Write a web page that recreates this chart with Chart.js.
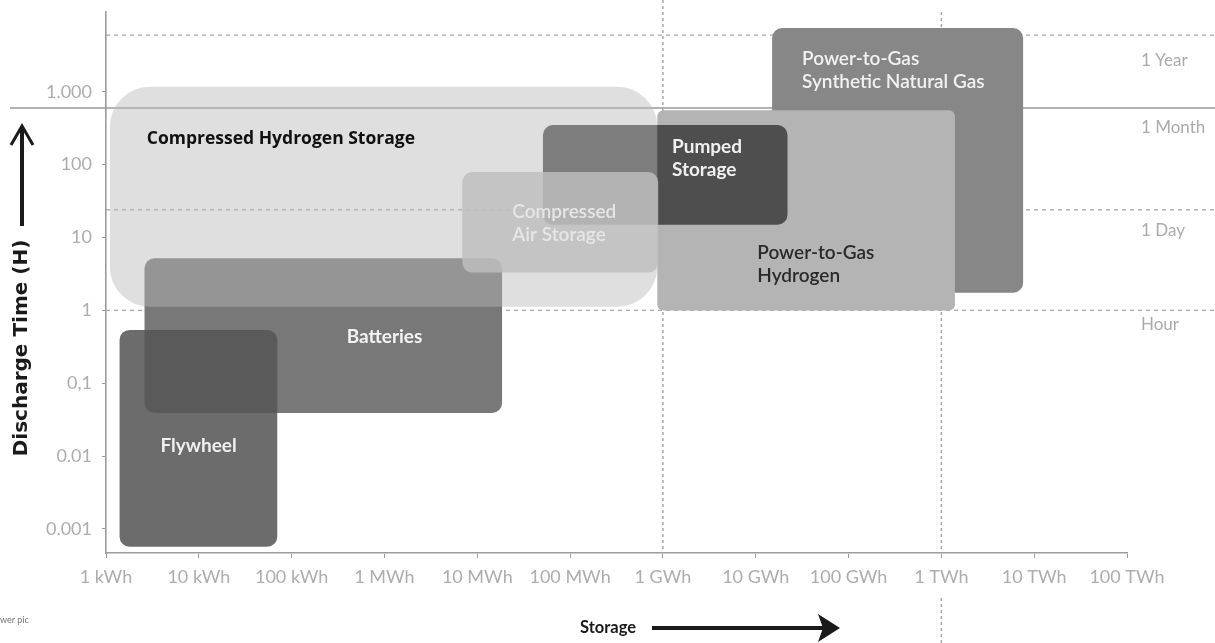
<!DOCTYPE html>
<html>
<head>
<meta charset="utf-8">
<script src="https://cdn.jsdelivr.net/npm/chart.js@4.4.1/dist/chart.umd.min.js"></script>
<style>
  html, body { margin: 0; padding: 0; background: #fff; }
  #wrap { width: 1215px; height: 643px; position: relative; }
</style>
</head>
<body>
<div id="wrap"><canvas id="grafico"></canvas></div>
<script>
// tecnologias: armazenamento em kWh, tempo de descarga em horas
const tecnologias = ["Power-to-Gas Synthetic Natural Gas", "Power-to-Gas Hydrogen", "Batteries", "Flywheel", "Pumped Storage", "Compressed Hydrogen Storage", "Compressed Air Storage"];
const armazMin = [1.5e7, 8.7e5, 2.6, 1.4, 5.1e4, 1.1, 6.9e3];
const armazMax = [7.6e9, 1.4e9, 1.85e4, 70, 2.2e7, 8.7e5, 8.9e5];
const tempoMin = [1.75, 1.0, 0.039, 0.00057, 15, 1.12, 3.3];
const tempoMax = [7500, 560, 5.2, 0.54, 350, 1170, 79];
const rotulos = [["Power-to-Gas", "Synthetic Natural Gas"], ["Power-to-Gas", "Hydrogen"], ["Batteries"], ["Flywheel"], ["Pumped", "Storage"], ["Compressed Hydrogen Storage"], ["Compressed", "Air Storage"]];

// marcos de tempo (linhas horizontais) e linhas verticais
const marcos = ["1 Year", "1 Month", "1 Day", "Hour"];
const marcosHoras = [6000, 600, 24, 1];
const verticais = [1e6, 1e9];

// eixos
const xTicks = [1, 10, 100, 1e3, 1e4, 1e5, 1e6, 1e7, 1e8, 1e9, 1e10, 1e11];
const xLabels = ["1 kWh", "10 kWh", "100 kWh", "1 MWh", "10 MWh", "100 MWh", "1 GWh", "10 GWh", "100 GWh", "1 TWh", "10 TWh", "100 TWh"];
const yTicks = [0.001, 0.01, 0.1, 1, 10, 100, 1000];
const yLabels = ["0.001", "0.01", "0,1", "1", "10", "100", "1.000"];

// estilo de cada caixa (cor, raio, texto)
const estilos = [
  { cor: "#878787", raio: 10, texto: "#f2f2f2", fonte: "600 19px Lato", dx: 30, dy: 31, alin: "left" },
  { cor: "#b4b4b4", raio: 6, texto: "#2a2a2a", fonte: "600 19px Lato", dx: 100, dy: 143, alin: "left" },
  { cor: "#787878", raio: 10, texto: "#f4f4f4", fonte: "700 19px Lato", dx: 240, dy: 79, alin: "center" },
  { cor: "rgba(86,86,86,0.87)", raio: 10, texto: "#f0f0f0", fonte: "700 19px Lato", dx: 79, dy: 116, alin: "center" },
  { cor: "#4e4e4e", raio: 10, texto: "#f0f0f0", fonte: "700 19px Lato", dx: 129, dy: 22, alin: "left" },
  { cor: "rgba(185,185,185,0.45)", raio: 40, texto: "#111111", fonte: "700 17.5px 'Open Sans'", dx: 37, dy: 52, alin: "left" },
  { cor: "rgba(190,190,190,0.83)", raio: 10, texto: "#e6e6e6", fonte: "600 19px Lato", dx: 50, dy: 40, alin: "left" }
];

function achaIndice(lista, v) {
  return lista.findIndex((t) => Math.abs(Math.log10(t) - Math.log10(v)) < 1e-6);
}

const caixas = {
  id: "caixas",
  beforeDatasetsDraw(chart) {
    const ctx = chart.ctx;
    const ca = chart.chartArea;
    const sx = chart.scales.x, sy = chart.scales.y;
    ctx.save();

    // linhas horizontais de referencia
    marcosHoras.forEach((h, i) => {
      const y = sy.getPixelForValue(h);
      ctx.beginPath();
      ctx.strokeStyle = i == 1 ? "#9a9a9a" : "#a8a8a8";
      ctx.lineWidth = i == 1 ? 1.6 : 1.3;
      ctx.setLineDash(i == 1 ? [] : [4, 4]);
      ctx.moveTo(i == 1 ? 10 : ca.left, y);
      ctx.lineTo(chart.width, y);
      ctx.stroke();
    });

    // linhas verticais
    verticais.forEach((v, i) => {
      const x = sx.getPixelForValue(v);
      ctx.beginPath();
      ctx.strokeStyle = "#a8a8a8";
      ctx.lineWidth = 1.5;
      ctx.setLineDash([3, 3]);
      ctx.moveTo(x, i == 0 ? 0 : ca.top);
      ctx.lineTo(x, ca.bottom);
      if (i == 1) {
        ctx.moveTo(x, 598);
        ctx.lineTo(x, chart.height);
      }
      ctx.stroke();
    });
    ctx.setLineDash([]);

    // caixas
    chart.data.datasets.forEach((ds, i) => {
      const meta = chart.getDatasetMeta(i);
      const p0 = meta.data[0], p1 = meta.data[1];
      const l = Math.min(p0.x, p1.x), r = Math.max(p0.x, p1.x);
      const t = Math.min(p0.y, p1.y), b = Math.max(p0.y, p1.y);
      ctx.beginPath();
      ctx.fillStyle = estilos[i].cor;
      ctx.roundRect(l, t, r - l, b - t, estilos[i].raio);
      ctx.fill();
    });

    // textos das caixas
    chart.data.datasets.forEach((ds, i) => {
      const meta = chart.getDatasetMeta(i);
      const l = Math.min(meta.data[0].x, meta.data[1].x);
      const t = Math.min(meta.data[0].y, meta.data[1].y);
      const e = estilos[i];
      ctx.font = e.fonte;
      ctx.fillStyle = e.texto;
      ctx.textAlign = e.alin;
      ctx.textBaseline = "middle";
      rotulos[i].forEach((linha, k) => {
        ctx.fillText(linha, l + e.dx, t + e.dy + k * 23);
      });
    });

    // rotulos dos marcos
    ctx.font = "17px Lato";
    ctx.fillStyle = "#ababab";
    ctx.textAlign = "left";
    ctx.textBaseline = "middle";
    const desloc = [25, 20, 21, 14];
    marcosHoras.forEach((h, i) => {
      ctx.fillText(marcos[i], ca.right + 14, sy.getPixelForValue(h) + desloc[i]);
    });
    ctx.restore();
  },
  afterDraw(chart) {
    const ctx = chart.ctx;
    ctx.save();
    ctx.fillStyle = "#1a1a1a";
    ctx.strokeStyle = "#1a1a1a";

    // titulo do eixo y com seta
    ctx.save();
    ctx.translate(22, 348);
    ctx.rotate(-Math.PI / 2);
    ctx.font = "bold 20px 'DejaVu Sans'";
    ctx.textAlign = "center";
    ctx.textBaseline = "middle";
    ctx.fillText("Discharge Time (H)", 0, 0);
    ctx.restore();
    ctx.lineWidth = 4;
    ctx.beginPath();
    ctx.moveTo(22, 226);
    ctx.lineTo(22, 128);
    ctx.stroke();
    ctx.lineWidth = 3;
    ctx.beginPath();
    ctx.moveTo(11, 145);
    ctx.lineTo(22, 126);
    ctx.lineTo(33, 145);
    ctx.stroke();

    // titulo do eixo x com seta
    ctx.font = "700 16.5px Lato";
    ctx.textAlign = "left";
    ctx.textBaseline = "middle";
    ctx.fillText("Storage", 580, 628);
    ctx.lineWidth = 4;
    ctx.beginPath();
    ctx.moveTo(652, 628);
    ctx.lineTo(825, 628);
    ctx.stroke();
    ctx.beginPath();
    ctx.moveTo(840, 628);
    ctx.lineTo(818, 614);
    ctx.lineTo(823, 628);
    ctx.lineTo(818, 642);
    ctx.closePath();
    ctx.fill();

    // legenda cortada no canto
    ctx.font = "9px Lato";
    ctx.fillStyle = "#777";
    ctx.fillText("wer pic", 0, 620);
    ctx.restore();
  }
};

const datasets = tecnologias.map((nome, i) => ({
  label: nome,
  data: [{ x: armazMin[i], y: tempoMin[i] }, { x: armazMax[i], y: tempoMax[i] }],
  pointRadius: 0,
  showLine: false
}));

const grafico = new Chart(document.getElementById("grafico"), {
  type: "scatter",
  data: { datasets: datasets },
  plugins: [caixas],
  options: {
    responsive: true,
    maintainAspectRatio: false,
    animation: false,
    events: [],
    layout: { padding: { top: 12, right: 88, left: 0, bottom: 0 } },
    plugins: { legend: { display: false }, tooltip: { enabled: false } },
    scales: {
      x: {
        type: "logarithmic",
        min: 1,
        max: 1e11,
        afterBuildTicks: (s) => { s.ticks = xTicks.map((v) => ({ value: v })); },
        afterFit: (s) => { s.height = 90; s.paddingLeft = 0; s.paddingRight = 0; },
        ticks: {
          autoSkip: false,
          maxRotation: 0,
          padding: 8,
          color: "#adadad",
          font: { family: "Lato", size: 18 },
          callback: (v) => xLabels[achaIndice(xTicks, v)]
        },
        grid: { drawOnChartArea: false, tickLength: 5, color: "#9c9c9c" },
        border: { color: "#9c9c9c", width: 1.6 }
      },
      y: {
        type: "logarithmic",
        min: 0.000468,
        max: 12450,
        afterBuildTicks: (s) => { s.ticks = yTicks.map((v) => ({ value: v })); },
        afterFit: (s) => { s.width = 106; s.paddingTop = 0; s.paddingBottom = 0; },
        ticks: {
          autoSkip: false,
          padding: 10,
          color: "#adadad",
          font: { family: "Lato", size: 18 },
          callback: (v) => yLabels[achaIndice(yTicks, v)]
        },
        grid: { drawOnChartArea: false, tickLength: 4, color: "#9c9c9c" },
        border: { color: "#9c9c9c", width: 1.6 }
      }
    }
  }
});
</script>
</body>
</html>
